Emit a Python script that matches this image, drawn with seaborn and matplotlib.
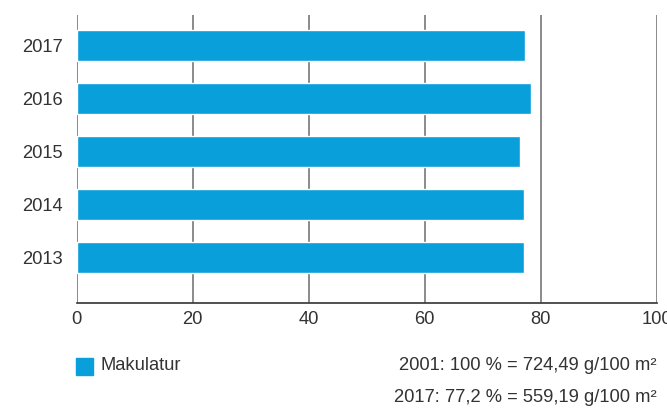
import matplotlib
matplotlib.use("Agg")
import matplotlib.pyplot as plt
import seaborn as sns
import pandas as pd

years = ["2017", "2016", "2015", "2014", "2013"]
makulatur = [77.2, 78.3, 76.4, 77.1, 77.1]
x_ticks = [0, 20, 40, 60, 80, 100]
legend_label = "Makulatur"
note_lines = ["2001: 100 % = 724,49 g/100 m²", "2017: 77,2 % = 559,19 g/100 m²"]

sns.set_theme(style="white")
plt.rcParams["font.family"] = ["Liberation Sans", "DejaVu Sans"]

text_color = "#333333"
bar_color = "#089fdb"
fs = 13.2

df = pd.DataFrame({"year": years, "value": makulatur})

fig = plt.figure(figsize=(6.67, 4.12), dpi=100)
ax = fig.add_axes([0.1147, 0.2646, 0.985 - 0.1147, 0.9636 - 0.2646])

sns.barplot(data=df, x="value", y="year", orient="h", color=bar_color,
            width=0.58, saturation=1, ax=ax, zorder=3)

ax.set_xlim(0, 100)
ax.set_ylim(4.86, -0.575)
ax.set_xticks(x_ticks)
ax.set_xticklabels([str(t) for t in x_ticks])
for t in x_ticks:
    ax.axvline(t, color="#8a8a8a", lw=1.4, zorder=1)

for s in ["top", "right", "left"]:
    ax.spines[s].set_visible(False)
ax.spines["bottom"].set_color("#333333")
ax.spines["bottom"].set_linewidth(1.2)
ax.spines["bottom"].set_zorder(4)

ax.set_xlabel("")
ax.set_ylabel("")
ax.tick_params(axis="both", length=0, labelsize=fs, colors=text_color)
ax.tick_params(axis="x", pad=6)
ax.tick_params(axis="y", pad=10)

# legend swatch and label
fig.patches.append(plt.Rectangle((76 / 667, 1 - 375 / 412), 17 / 667, 17 / 412,
                                 transform=fig.transFigure, color=bar_color))
fig.text(100 / 667, 1 - 366 / 412, legend_label, fontsize=fs, color=text_color,
         va="center", ha="left")

fig.text(657 / 667, 1 - 366 / 412, note_lines[0], fontsize=fs, color=text_color,
         va="center", ha="right")
fig.text(657 / 667, 1 - 397 / 412, note_lines[1], fontsize=fs, color=text_color,
         va="center", ha="right")

fig.savefig("out.png", dpi=100)
